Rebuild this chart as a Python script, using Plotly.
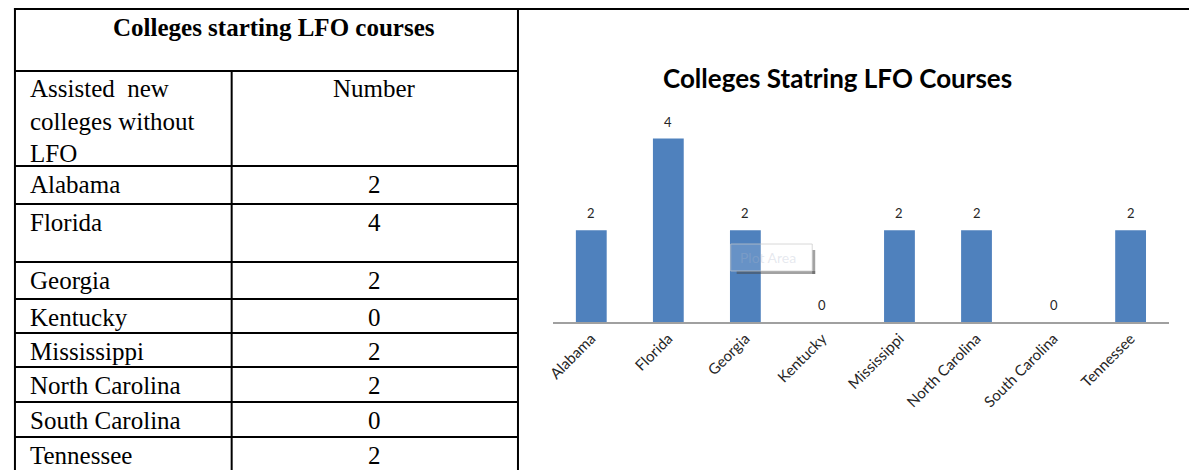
import plotly.graph_objects as go

# ---------------- data ----------------
states = ["Alabama", "Florida", "Georgia", "Kentucky", "Mississippi",
          "North Carolina", "South Carolina", "Tennessee"]
counts = [2, 4, 2, 0, 2, 2, 0, 2]
table_title = "Colleges starting LFO courses"
col_left_header = ["Assisted\u00a0 new", "colleges without", "LFO"]
col_right_header = "Number"
chart_title = "Colleges Statring LFO Courses"
tooltip_text = "Plot Area"

# ---------------- layout helpers (pixel -> paper) ----------------
W, H = 1189, 470


def px(x):
    return x / W


def py(y):
    return 1 - y / H


BLUE = "#4F81BD"
SERIF = "Liberation Serif, Times New Roman, serif"
SANS = "Lato, Calibri, sans-serif"

fig = go.Figure()

fig.add_trace(go.Bar(
    x=states, y=counts, marker=dict(color=BLUE, line=dict(width=0)),
    hoverinfo="skip", showlegend=False,
))

shapes = []
annotations = []


def hline(y, x0, x1, w=2, color="black"):
    shapes.append(dict(type="line", xref="paper", yref="paper",
                       x0=px(x0), x1=px(x1), y0=py(y), y1=py(y),
                       line=dict(color=color, width=w), layer="above"))


def vline(x, y0, y1, w=2, color="black"):
    shapes.append(dict(type="line", xref="paper", yref="paper",
                       x0=px(x), x1=px(x), y0=py(y0), y1=py(y1),
                       line=dict(color=color, width=w), layer="above"))


def text(x, y, s, size=25, bold=False, xanchor="left", font=SERIF,
         color="black", align="left"):
    annotations.append(dict(xref="paper", yref="paper", x=px(x), y=py(y),
                            text=(f"<b>{s}</b>" if bold else s),
                            showarrow=False, xanchor=xanchor, yanchor="middle",
                            align=align,
                            font=dict(family=font, size=size, color=color)))


# ---------------- table ----------------
LEFT, MID, COLDIV, BOTTOM = 8, 514, 226, 472
hline(9, LEFT - 1, W)
vline(LEFT, 8, BOTTOM)
vline(MID, 8, BOTTOM)
hline(71, LEFT, MID)
vline(COLDIV, 71, BOTTOM)
row_tops = [166, 204, 262, 299, 333, 367, 402, 437]
for y in row_tops:
    hline(y, LEFT, MID)

text((LEFT + MID) / 2 + 8, 28, table_title, bold=True, xanchor="center")
text(21, 121, "<br>".join(col_left_header))
text((COLDIV + MID) / 2, 88, col_right_header, xanchor="center")
for st, val, top in zip(states, counts, row_tops):
    text(21, top + 18, st)
    text((COLDIV + MID) / 2, top + 18, str(val), xanchor="center")

# ---------------- chart ----------------
text(835, 78, chart_title, size=26, bold=True, xanchor="center", font=SANS)

for st, val in zip(states, counts):
    annotations.append(dict(xref="x", yref="y", x=st, y=val, yshift=17,
                            text=str(val), showarrow=False,
                            xanchor="center", yanchor="middle",
                            font=dict(family=SANS, size=13, color="#262626")))

# "Plot Area" tooltip artefact
shapes.append(dict(type="rect", xref="paper", yref="paper",
                   x0=px(734), x1=px(813), y0=py(274), y1=py(271),
                   fillcolor="rgba(70,70,70,0.5)", line=dict(width=0),
                   layer="above"))
shapes.append(dict(type="rect", xref="paper", yref="paper",
                   x0=px(810), x1=px(813), y0=py(274), y1=py(250),
                   fillcolor="rgba(70,70,70,0.5)", line=dict(width=0),
                   layer="above"))
shapes.append(dict(type="rect", xref="paper", yref="paper",
                   x0=px(728), x1=px(810), y0=py(271), y1=py(244),
                   fillcolor="rgba(255,255,255,0.14)",
                   line=dict(color="rgba(200,200,200,0.7)", width=1),
                   layer="above"))
text(735, 257, tooltip_text, size=14, font=SANS,
     color="rgba(170,180,200,0.3)")

fig.update_layout(
    width=W, height=H,
    margin=dict(l=0, r=0, t=0, b=0),
    paper_bgcolor="white", plot_bgcolor="white",
    bargap=0.6,
    shapes=shapes, annotations=annotations,
    xaxis=dict(domain=[px(549), px(1169)], showline=True,
               linecolor="#A0A0A0", linewidth=2, ticks="",
               tickangle=-45, showgrid=False, zeroline=False,
               tickfont=dict(family=SANS, size=15, color="#262626"),
               fixedrange=True),
    yaxis=dict(domain=[py(322), py(111)], range=[0, 4.6], visible=False,
               showgrid=False, zeroline=False, fixedrange=True),
)

fig.write_html(
    "out.html",
    config={"displayModeBar": False},
    post_script="document.body.style.margin='0';document.body.style.padding='0';"
                "document.body.style.overflow='hidden';",
)
